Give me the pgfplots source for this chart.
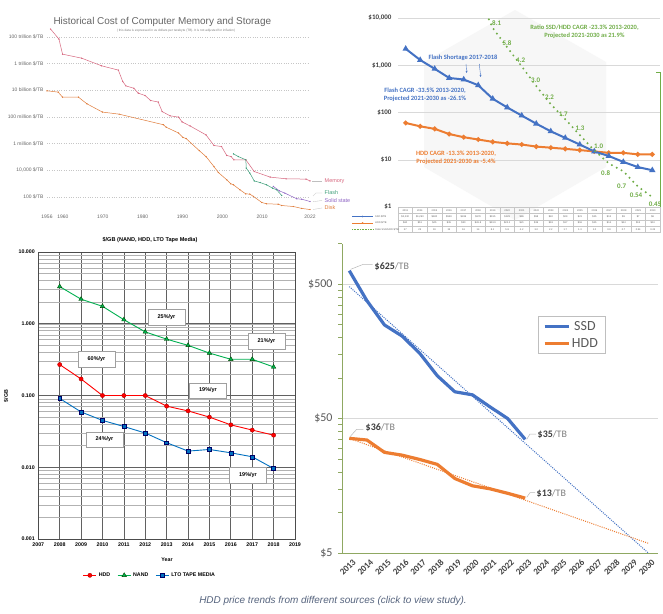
\documentclass[border=0pt]{standalone}
\usepackage{pgfplots}
\pgfplotsset{compat=1.18}
\usepackage{fontspec}
\setmainfont{Liberation Sans}
\newfontfamily\carl{Carlito}
\newfontfamily\lib{Liberation Sans}
\usetikzlibrary{arrows.meta,shadows}
\definecolor{memc}{HTML}{D7667E}
\definecolor{diskc}{HTML}{E07B39}
\definecolor{flashc}{HTML}{3E9F7A}
\definecolor{ssc}{HTML}{8E63C4}
\definecolor{xblue}{HTML}{4472C4}
\definecolor{xorange}{HTML}{ED7D31}
\definecolor{xgreen}{HTML}{70AD47}
\definecolor{dgray}{HTML}{404040}
\definecolor{mgray}{HTML}{595959}
\definecolor{olive}{HTML}{8FA862}
\definecolor{capc}{HTML}{56647E}
\definecolor{nandc}{HTML}{00B050}
\definecolor{hddr}{HTML}{FF0000}
\definecolor{ltob}{HTML}{0070C0}
\begin{document}
\begin{tikzpicture}
\fill[white] (0,0) rectangle (663bp,-614bp);
\useasboundingbox (0,0) rectangle (663bp,-614bp);

%================ PANEL 1 : historical cost =================
\node[font=\lib\fontsize{10}{12}\selectfont, text=gray!80!black, anchor=west] at (50bp,-22bp) {Historical Cost of Computer Memory and Storage};
\node[font=\lib\fontsize{3.2}{4}\selectfont, text=gray] at (176bp,-31bp) {( this data is expressed in us dollars per terabyte (TB). It is not adjusted for inflation)};
\begin{axis}[
  at={(47bp,-210.35bp)}, anchor=south west, scale only axis,
  width=263bp, height=185.57bp,
  xmin=1956, xmax=2022, ymode=log, ymin=10, ymax=7.94e14,
  axis line style={draw=none}, tick style={draw=none},
  xtick={1956,1960,1970,1980,1990,2000,2010,2022},
  xticklabels={1956,1960,1970,1980,1990,2000,2010,2022},
  ytick={1e2,1e4,1e6,1e8,1e10,1e12,1e14},
  yticklabels={{100 \$/TB},{10,000 \$/TB},{1 million \$/TB},{100 million \$/TB},{10 billion \$/TB},{1 trillion \$/TB},{100 trillion \$/TB}},
  ymajorgrids, major grid style={gray!45, dotted, line width=0.5pt},
  tick label style={font=\lib\fontsize{5}{6}\selectfont, text=gray!80!black},
  xticklabel style={yshift=-1.5bp},
  clip=false,
]
\addplot[memc, line width=0.5pt, mark=*, mark size=0.35pt] coordinates {
(1956.9,3.8e14)(1959.0,6.7e13)(1959.9,5e12)(1964.7,2.5e12)(1969.7,6.7e11)(1973.9,3.2e11)(1975.0,4.5e10)(1975.8,2.1e10)(1977.8,1.4e10)(1978.9,6e9)(1980.6,4e9)(1982.0,1.7e9)(1983.9,1.3e9)(1984.9,2.5e8)(1986.9,1.2e8)(1989.0,9.6e7)(1989.9,4.2e7)(1991.9,2.1e7)(1995.9,4.5e6)(1997.9,7.2e5)(1999.8,6e5)(2001.1,1.3e5)(2002.2,1.07e5)(2002.9,6.1e4)(2005.9,6.1e4)(2008.0,8.1e3)(2012.0,3.1e3)(2016.0,2.3e3)(2021.0,2.2e3)(2022.0,1.6e3)};
\addplot[diskc, line width=0.5pt, mark=*, mark size=0.35pt] coordinates {
(1956.0,9e9)(1958.8,7.2e9)(1959.9,3e9)(1963.9,3e9)(1966.0,9.6e8)(1969.9,2.3e8)(1974.1,1.6e8)(1985.2,2.6e7)(1985.9,1.7e7)(1989.0,6.2e6)(1990.1,2.9e6)(1990.9,2.4e6)(1994.2,3e5)(1995.9,1.07e5)(1997.9,1.9e4)(1999.0,6.9e3)(2001.1,1.95e3)(2002.1,980)(2002.8,820)(2004.4,350)(2005.9,170)(2006.9,166)(2007.8,110)(2009.9,39)(2011.1,31)(2014.0,29)(2014.9,23)(2017.8,19.5)(2019.9,14)(2022.0,11.5)};
\addplot[flashc, line width=0.5pt, mark=*, mark size=0.35pt] coordinates {
(2002.8,1.7e5)(2004.0,1.07e5)(2005.9,6.1e4)(2006.0,1.45e4)(2006.9,6.2e3)(2008.0,1.6e3)(2009.5,1.2e3)(2011.1,820)(2012.6,460)(2013.6,350)(2014.9,130)};
\addplot[ssc, line width=0.5pt, mark=*, mark size=0.35pt] coordinates {
(2012.8,620)(2014.3,290)(2015.7,195)(2018.7,73)(2019.9,69)(2022.0,46)};
\end{axis}
\draw[gray!50, line width=0.3pt] (312bp,-181bp) -- (322bp,-181bp);
\draw[gray!50, line width=0.3pt] (313bp,-196bp) -- (316bp,-193bp) -- (322bp,-193bp);
\draw[gray!50, line width=0.3pt] (313bp,-201.7bp) -- (322bp,-200.5bp);
\draw[gray!50, line width=0.3pt] (313bp,-209.5bp) -- (322bp,-208bp);
\begin{scope}[every node/.style={anchor=west, font=\lib\fontsize{5.5}{6}\selectfont, inner sep=0.5bp}]
\node[text=memc] at (324bp,-181bp) {Memory};
\node[text=flashc] at (324bp,-193bp) {Flash};
\node[text=ssc] at (324bp,-200.5bp) {Solid state};
\node[text=diskc] at (324bp,-208bp) {Disk};
\end{scope}

%================ PANEL 2 : SSD vs HDD forecast =================
\fill[black!3] (515bp,-10bp) -- (606bp,-62bp) -- (606bp,-167bp) -- (515bp,-220bp) -- (424bp,-167bp) -- (424bp,-62bp) -- cycle;
\begin{axis}[
  at={(398bp,-207bp)}, anchor=south west, scale only axis,
  width=262bp, height=189bp,
  xmin=2012.47, xmax=2030.53, ymode=log, ymin=1, ymax=10000,
  axis line style={draw=none}, tick style={draw=none}, xtick=\empty,
  ytick={1,10,100,1000,10000}, yticklabels={\$1,\$10,\$100,{\$1,000},{\$10,000}},
  ymajorgrids, major grid style={gray!30, line width=0.5pt},
  yticklabel style={font=\carl\bfseries\fontsize{7}{8}\selectfont, text=dgray, xshift=-3bp},
]
\addplot[xorange, line width=2pt, mark=*, mark size=1.3pt] table {
x y
2013 60
2014 51
2015 45
2016 35
2017 30
2018 26.8
2019 23.9
2020 22.2
2021 21
2022 19
2023 18
2024 17
2025 16
2026 15
2027 14
2028 14
2029 13
2030 13
};
\addplot[xblue, line width=2pt, mark=triangle*, mark size=1.7pt] table {
x y
2013 2230
2014 1290
2015 840
2016 538
2017 499
2018 378
2019 195
2020 128
2021 86
2022 58
2023 40
2024 29
2025 21
2026 15
2027 12
2028 9
2029 7
2030 6
};
\end{axis}
\begin{axis}[
  at={(398bp,-207bp)}, anchor=south west, scale only axis,
  width=262bp, height=189bp,
  xmin=2012.47, xmax=2030.53, ymode=log, ymin=0.38, ymax=9.6,
  hide axis,
]
\addplot[xgreen, line width=2.2pt, dash pattern=on 0pt off 5.5pt, line cap=round] table {
x y
2013 37
2014 25
2015 19
2016 15
2017 16
2018 14
2019 8.1
2020 5.8
2021 4.2
2022 3.0
2023 2.2
2024 1.7
2025 1.3
2026 1.0
2027 0.8
2028 0.7
2029 0.54
2030 0.45
};
\end{axis}
\draw[xgreen, line width=0.6pt] (660bp,-72bp) -- (660bp,-207bp);
\draw[xgreen, line width=0.6pt] (656bp,-72bp) -- (660bp,-72bp);
\begin{scope}[every node/.style={font=\carl\bfseries\fontsize{7}{8}\selectfont, text=xgreen, inner sep=0pt}]
\node at (496.7bp,-22.7bp) {8.1};
\node at (507bp,-42.7bp) {5.8};
\node at (520.7bp,-60.7bp) {4.2};
\node at (535.7bp,-80bp) {3.0};
\node at (549.5bp,-97.3bp) {2.2};
\node at (563.3bp,-114.3bp) {1.7};
\node at (580bp,-128.3bp) {1.3};
\node at (598.7bp,-146.7bp) {1.0};
\node at (605.7bp,-173.3bp) {0.8};
\node at (621.7bp,-186bp) {0.7};
\node at (636bp,-195bp) {0.54};
\node at (655bp,-204bp) {0.45};
\end{scope}
\begin{scope}[every node/.style={font=\carl\bfseries\fontsize{6.5}{8.3}\selectfont, align=center, inner sep=0pt}]
\node[text=xblue] at (463bp,-57.3bp) {Flash Shortage 2017-2018};
\node[text=xblue] at (425bp,-95bp) {Flash CAGR -33.5\% 2013-2020,\\Projected 2021-2030 as -26.1\%};
\node[text=xorange] at (456bp,-158bp) {HDD CAGR -13.3\% 2013-2020,\\Projected 2021-2030 as -5.4\%};
\node[text=xgreen] at (584.5bp,-32bp) {Ratio SSD/HDD CAGR -23.3\% 2013-2020,\\Projected 2021-2030 as 21.9\%};
\end{scope}
\draw[xblue, line width=0.4pt, -{Stealth[length=2.2bp,width=2bp]}] (466bp,-64bp) -- (466.7bp,-73bp);
\draw[xblue, line width=0.4pt, -{Stealth[length=2.2bp,width=2bp]}] (479.3bp,-64bp) -- (480.7bp,-77bp);
% data table under the chart
\draw[gray!45, line width=0.3pt] (398bp,-207bp) rectangle (660bp,-232.3bp);
\foreach \r in {213.3,219.7,226} \draw[gray!45, line width=0.3pt] (398bp,-\r bp) -- (660bp,-\r bp);
\foreach \i in {1,...,17} {
  \pgfmathsetmacro\gx{398+\i*262/18}
  \draw[gray!45, line width=0.3pt] (\gx bp,-207bp) -- (\gx bp,-232.3bp);
}
\foreach \yr/\ss/\hh/\rr [count=\i from 0] in {2013/{\$2,230}/{\$60}/37, 2014/{\$1,290}/{\$51}/25, 2015/{\$840}/{\$45}/19, 2016/{\$538}/{\$35}/15, 2017/{\$499}/{\$30}/16, 2018/{\$378}/{\$26.8}/14, 2019/{\$195}/{\$23.9}/8.1, 2020/{\$128}/{\$22.2}/5.8, 2021/{\$86}/{\$21}/4.2, 2022/{\$58}/{\$19}/3.0, 2023/{\$40}/{\$18}/2.2, 2024/{\$29}/{\$17}/1.7, 2025/{\$21}/{\$16}/1.3, 2026/{\$15}/{\$15}/1.0, 2027/{\$12}/{\$14}/0.8, 2028/{\$9}/{\$14}/0.7, 2029/{\$7}/{\$13}/0.54, 2030/{\$6}/{\$13}/0.45} {
  \pgfmathsetmacro\cx{398+(\i+0.5)*262/18}
  \begin{scope}[every node/.style={font=\lib\fontsize{2.5}{3}\selectfont, text=gray!75!black, inner sep=0pt}]
  \node at (\cx bp,-210.2bp) {\yr};
  \node at (\cx bp,-216.5bp) {\ss};
  \node at (\cx bp,-222.9bp) {\hh};
  \node at (\cx bp,-229.2bp) {\rr};
  \end{scope}
}
\draw[xblue, line width=0.8pt] (352bp,-216.5bp) -- (373bp,-216.5bp);
\fill[xblue] (362.5bp,-216.5bp) circle (0.9bp);
\draw[xorange, line width=0.8pt] (352bp,-222.9bp) -- (373bp,-222.9bp);
\fill[xorange] (362.5bp,-222.9bp) circle (0.9bp);
\draw[xgreen, line width=0.6pt, dash pattern=on 0.8pt off 0.8pt] (352bp,-229.2bp) -- (373bp,-229.2bp);
\begin{scope}[every node/.style={font=\lib\fontsize{2.5}{3}\selectfont, text=gray!75!black, inner sep=0pt, anchor=west}]
\node at (375bp,-216.5bp) {SSD \$/TB};
\node at (375bp,-222.9bp) {HDD \$/TB};
\node at (375bp,-229.2bp) {Ratio SSD/HDD \$/TB};
\end{scope}

%================ PANEL 3 : $/GB NAND HDD LTO =================
\node[font=\lib\bfseries\fontsize{5.6}{7}\selectfont] at (150bp,-240bp) {\$/GB (NAND, HDD, LTO Tape Media)};
\node[font=\lib\bfseries\fontsize{5.3}{6}\selectfont, rotate=90] at (6bp,-396bp) {\$/GB};
\node[font=\lib\bfseries\fontsize{5.3}{6}\selectfont] at (167bp,-559.3bp) {Year};
\begin{axis}[
  at={(38.3bp,-539bp)}, anchor=south west, scale only axis,
  width=256.7bp, height=287bp,
  xmin=2007, xmax=2019, ymode=log, ymin=0.001, ymax=10,
  xtick={2007,2008,2009,2010,2011,2012,2013,2014,2015,2016,2017,2018,2019},
  xticklabels={2007,2008,2009,2010,2011,2012,2013,2014,2015,2016,2017,2018,2019},
  ytick={0.001,0.01,0.1,1,10},
  yticklabels={0.001,0.010,0.100,1.000,10.000},
  xmajorgrids, ymajorgrids, yminorgrids,
  major grid style={black!62, line width=0.7pt},
  minor grid style={black!30, line width=0.45pt},
  axis line style={black!70, line width=0.8pt},
  tick style={draw=none},
  tick label style={font=\lib\bfseries\fontsize{5.3}{6}\selectfont},
  legend style={at={(0.435,-0.1265)}, anchor=center, draw=none, fill=none, legend columns=3,
    font=\lib\bfseries\fontsize{5.3}{6}\selectfont, inner sep=0pt,
    /tikz/every even column/.append style={column sep=5bp}},
  legend image code/.code={\draw[mark repeat=2,mark phase=2,#1] plot coordinates {(0bp,0bp)(6.5bp,0bp)(13bp,0bp)};},
]
\addplot[hddr, line width=0.9pt, mark=*, mark size=2.1pt, mark options={draw=red!70!black, line width=0.4pt}] coordinates {
(2008,0.27)(2009,0.17)(2010,0.100)(2011,0.100)(2012,0.100)(2013,0.071)(2014,0.061)(2015,0.050)(2016,0.039)(2017,0.033)(2018,0.028)};
\addlegendentry{HDD}
\addplot[nandc, line width=0.9pt, mark=triangle*, mark size=2.6pt, mark options={draw=green!30!black, line width=0.4pt}] coordinates {
(2008,3.3)(2009,2.2)(2010,1.75)(2011,1.14)(2012,0.77)(2013,0.61)(2014,0.50)(2015,0.39)(2016,0.32)(2017,0.32)(2018,0.25)};
\addlegendentry{NAND}
\addplot[ltob, line width=0.9pt, mark=square*, mark size=2pt, mark options={draw=blue!40!black, line width=0.4pt}] coordinates {
(2008,0.091)(2009,0.059)(2010,0.045)(2011,0.037)(2012,0.030)(2013,0.022)(2014,0.0168)(2015,0.0177)(2016,0.0159)(2017,0.014)(2018,0.0096)};
\addlegendentry{LTO TAPE MEDIA}
\end{axis}
\begin{scope}[every node/.style={draw=gray!75, fill=white, line width=0.5pt, minimum width=37bp, minimum height=15.5bp, inner sep=0pt, font=\lib\bfseries\fontsize{5.5}{6}\selectfont, drop shadow={shadow xshift=0.8bp, shadow yshift=-0.8bp, opacity=0.35}}]
\node at (166.5bp,-317bp) {25\%/yr};
\node at (266.5bp,-341bp) {21\%/yr};
\node at (96.5bp,-359bp) {60\%/yr};
\node at (208bp,-390.5bp) {19\%/yr};
\node at (104.5bp,-439.5bp) {24\%/yr};
\node at (248bp,-475bp) {19\%/yr};
\end{scope}

%================ PANEL 4 : SSD vs HDD $/TB =================
\begin{axis}[
  at={(342bp,-553bp)}, anchor=south west, scale only axis,
  width=316bp, height=309.5bp,
  xmin=2012.585, xmax=2030.55, ymode=log, ymin=5, ymax=1000,
  axis x line*=bottom, axis y line*=left,
  axis line style={olive, line width=0.8pt, -},
  xtick={2013,2014,2015,2016,2017,2018,2019,2020,2021,2022,2023,2024,2025,2026,2027,2028,2029,2030},
  xticklabels={2013,2014,2015,2016,2017,2018,2019,2020,2021,2022,2023,2024,2025,2026,2027,2028,2029,2030},
  x tick style={draw=none},
  ytick={5,50,500}, yticklabels={\$5,\$50,\$500},
  minor ytick={10,15,20,25,30,35,40,45,100,150,200,250,300,350,400,450,1000},
  y tick style={olive, line width=0.6pt},
  tick align=outside, major tick length=4bp, minor tick length=4bp,
  ymajorgrids, major grid style={gray!30, line width=0.6pt},
  yticklabel style={font=\carl\fontsize{12}{14}\selectfont, text=mgray, xshift=-2bp},
  xticklabel style={font=\carl\bfseries\fontsize{9}{10}\selectfont, text=dgray, rotate=45, anchor=north east, inner sep=1bp, xshift=2bp, yshift=-2bp},
  legend style={at={(0.726,0.704)}, anchor=center, draw=gray!50, fill=white, font=\carl\fontsize{14}{16}\selectfont, text=mgray, row sep=2bp, inner xsep=5bp, inner ysep=3bp},
  legend image code/.code={\draw[#1, line width=3pt] (0bp,0bp) -- (24bp,0bp);},
]
\addplot[xblue, line width=1pt, dash pattern=on 1pt off 1.2pt, forget plot] coordinates {(2013,478)(2030,5)};
\addplot[xorange, line width=1pt, dash pattern=on 1pt off 1.2pt, forget plot] coordinates {(2013,35.5)(2030,5.9)};
\addplot[xblue, line width=3.2pt, line join=round] coordinates {
(2013,628)(2014,376)(2015,248)(2016,205)(2017,153)(2018,104)(2019,79)(2020,75)(2021,61)(2022,50)(2023,35)};
\addlegendentry{SSD}
\addplot[xorange, line width=3.2pt, line join=round] coordinates {
(2013,35.6)(2014,34.6)(2015,28)(2016,26.7)(2017,24.8)(2018,22.8)(2019,17.9)(2020,15.8)(2021,15.0)(2022,13.9)(2023,12.8)};
\addlegendentry{HDD}
\end{axis}
\draw[gray!55, line width=0.5pt] (350.7bp,-269.3bp) -- (363.3bp,-264.3bp) -- (372.7bp,-264.3bp);
\draw[gray!55, line width=0.5pt] (350bp,-436.7bp) -- (356.7bp,-429.3bp) -- (363.3bp,-429.3bp);
\draw[gray!55, line width=0.5pt] (526.7bp,-439.3bp) -- (530bp,-434bp) -- (536bp,-434bp);
\draw[gray!55, line width=0.5pt] (526.7bp,-497.3bp) -- (530bp,-492.7bp) -- (535bp,-492.7bp);
\begin{scope}[every node/.style={anchor=west, inner sep=0.5bp, font=\carl\fontsize{10}{12}\selectfont}]
\node at (374bp,-266.7bp) {\textbf{\textcolor{dgray}{\$625}}\textcolor{gray}{/TB}};
\node at (365bp,-427.5bp) {\textbf{\textcolor{dgray}{\$36}}\textcolor{gray}{/TB}};
\node at (537bp,-435bp) {\textbf{\textcolor{dgray}{\$35}}\textcolor{gray}{/TB}};
\node at (536bp,-494bp) {\textbf{\textcolor{dgray}{\$13}}\textcolor{gray}{/TB}};
\end{scope}

%================ caption =================
\node[font=\lib\itshape\fontsize{10}{12}\selectfont, text=capc] at (333bp,-601bp) {HDD price trends from different sources (click to view study).};
\end{tikzpicture}
\end{document}
